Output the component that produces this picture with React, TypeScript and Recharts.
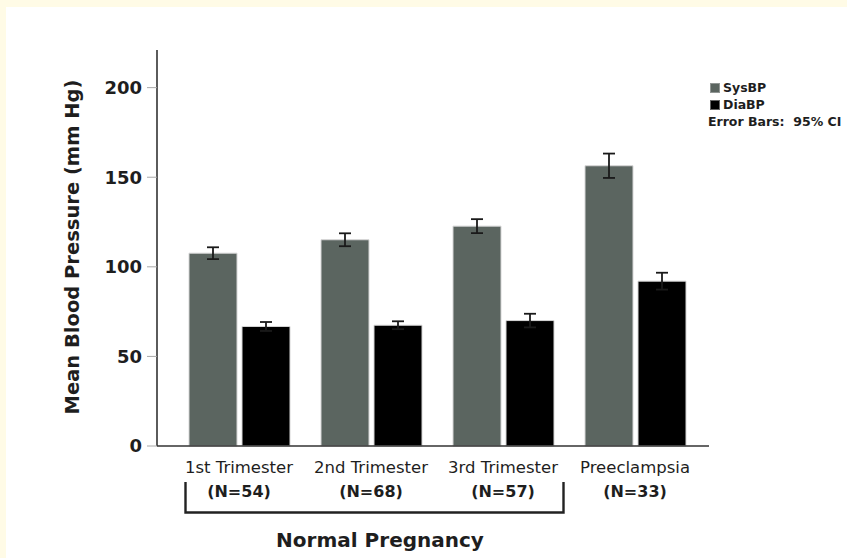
import React from "react";
import { BarChart, Bar, XAxis, YAxis, ErrorBar, Legend } from "recharts";

// group labels and sample sizes
const groups = ["1st Trimester", "2nd Trimester", "3rd Trimester", "Preeclampsia"];
const sampleSizes = [54, 68, 57, 33];

// mean systolic / diastolic pressure with 95% CI half-widths (mm Hg)
const sysMeans = [107.6, 115.1, 122.7, 156.4];
const sysCI = [3.3, 3.6, 3.9, 6.8];
const diaMeans = [66.7, 67.4, 70.0, 92.0];
const diaCI = [2.5, 2.2, 3.8, 4.7];

const yTicks = [0, 50, 100, 150, 200];

const SYS_COLOR = "#5b6560";
const DIA_COLOR = "#000000";
const TEXT = "#1e1e1e";

const data = groups.map((name, i) => ({
  name,
  SysBP: sysMeans[i],
  sysErr: sysCI[i],
  DiaBP: diaMeans[i],
  diaErr: diaCI[i],
}));

function GroupTick(props: any) {
  const { x, y, payload } = props;
  const i = groups.indexOf(payload.value);
  return (
    <g transform={`translate(${x},${y})`}>
      <text textAnchor="middle" y={27} fontSize={16.5} fill={TEXT}>
        {payload.value}
      </text>
      <text textAnchor="middle" y={51} fontSize={16} fontWeight="bold" fill={TEXT}>
        (N={sampleSizes[i]})
      </text>
    </g>
  );
}

function LegendBox() {
  const row = { display: "flex", alignItems: "center", height: 17 } as const;
  const swatch = (c: string) => ({
    width: 10,
    height: 10,
    background: c,
    marginRight: 3,
    boxShadow: "inset 0 0 0 1px rgba(200,200,200,0.5)",
  });
  return (
    <div style={{ fontSize: 12.5, fontWeight: "bold", color: TEXT, lineHeight: "17px" }}>
      <div style={row}>
        <span style={swatch(SYS_COLOR)} />
        SysBP
      </div>
      <div style={row}>
        <span style={swatch(DIA_COLOR)} />
        DiaBP
      </div>
      <div style={{ ...row, whiteSpace: "pre", marginLeft: -2 }}>Error Bars:  95% CI</div>
    </div>
  );
}

export default function App() {
  return (
    <div
      style={{
        position: "absolute",
        left: 0,
        top: 0,
        width: 847,
        height: 558,
        background: "#fffbe6",
        fontFamily: "'DejaVu Sans', Verdana, sans-serif",
      }}
    >
      <div style={{ position: "absolute", left: 6, top: 7, right: 0, bottom: 0, background: "#fff" }} />
      <div style={{ position: "absolute", left: 0, top: 0 }}>
        <BarChart
          width={847}
          height={558}
          data={data}
          margin={{ top: 50, right: 138, bottom: 82, left: 0 }}
          barSize={48}
          barGap={5}
        >
          <XAxis
            dataKey="name"
            height={30}
            axisLine={{ stroke: "#333", strokeWidth: 1.6 }}
            tickLine={false}
            tickSize={0}
            tickMargin={0}
            padding={{ left: 16, right: 8 }}
            tick={<GroupTick />}
            interval={0}
          />
          <YAxis
            width={157}
            domain={[0, 221]}
            ticks={yTicks}
            axisLine={{ stroke: "#333", strokeWidth: 1.6 }}
            tickLine={{ stroke: "#a8a8a8" }}
            tickSize={10}
            tickMargin={5}
            tick={{ fontSize: 18, fontWeight: "bold", fill: TEXT }}
          />
          <Legend
            layout="horizontal"
            verticalAlign="middle"
            align="center"
            content={() => <LegendBox />}
            wrapperStyle={{ position: "absolute", left: 710, top: 79, width: 140 }}
          />
          <Bar dataKey="SysBP" fill={SYS_COLOR} stroke="#d6d6d6" strokeWidth={1} isAnimationActive={false}>
            <ErrorBar dataKey="sysErr" width={6} stroke="#1a1a1a" strokeWidth={1.8} isAnimationActive={false} />
          </Bar>
          <Bar dataKey="DiaBP" fill={DIA_COLOR} stroke="#d6d6d6" strokeWidth={1} isAnimationActive={false}>
            <ErrorBar dataKey="diaErr" width={6} stroke="#1a1a1a" strokeWidth={1.8} isAnimationActive={false} />
          </Bar>
        </BarChart>
      </div>
      <svg width={847} height={558} style={{ position: "absolute", left: 0, top: 0, pointerEvents: "none" }}>
        <text
          x={79}
          y={247}
          transform="rotate(-90, 79, 247)"
          textAnchor="middle"
          fontSize={19.5}
          fontWeight="bold"
          fill={TEXT}
        >
          Mean Blood Pressure (mm Hg)
        </text>
        {/* bracket under the three normal-pregnancy groups */}
        <path d="M185.5 482 V512.5 H563.5 V482" fill="none" stroke="#222" strokeWidth={2.4} />
        <text x={380} y={547} textAnchor="middle" fontSize={20} fontWeight="bold" fill={TEXT}>
          Normal Pregnancy
        </text>
      </svg>
    </div>
  );
}
